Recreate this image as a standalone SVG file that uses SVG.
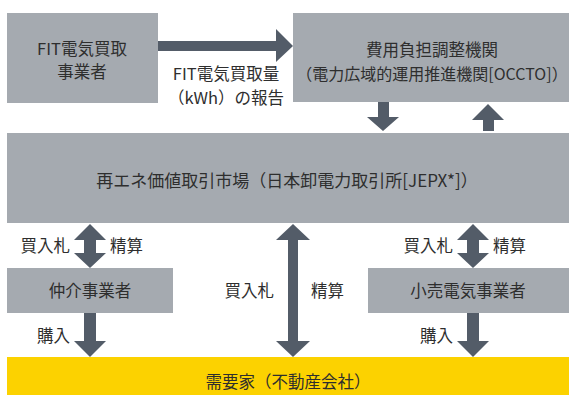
<svg xmlns="http://www.w3.org/2000/svg" width="575" height="396" viewBox="0 0 575 396">
<style>
.box{fill:#a5aab0}
.yel{fill:#fcd200}
.arr{fill:#535c68}
text{font-family:"Noto Sans CJK JP","Noto Sans",sans-serif;font-size:16.5px;fill:#2e2e2e;dominant-baseline:central}
.c{text-anchor:middle}
.e{text-anchor:end}
.w{font-size:17px}
.s{font-size:16px}
</style>
<rect width="575" height="396" fill="#fff"/>
<g id="fit">
<rect class="box" x="7" y="13" width="151" height="90"/>
<text class="c" x="82" y="48">FIT電気買取</text>
<text class="c" x="82" y="71">事業者</text>
</g>
<g id="occto">
<rect class="box" x="293" y="13" width="276" height="89"/>
<text class="c" x="432" y="49">費用負担調整機関</text>
<text class="c s" x="432" y="73">（電力広域的運用推進機関[OCCTO]）</text>
</g>
<g id="jepx">
<rect class="box" x="7" y="133" width="562" height="90"/>
<text class="c w" x="287" y="179">再エネ価値取引市場（日本卸電力取引所[JEPX*]）</text>
</g>
<g id="broker">
<rect class="box" x="7" y="268" width="166" height="45"/>
<text class="c" x="90" y="290">仲介事業者</text>
</g>
<g id="retail">
<rect class="box" x="368" y="268" width="201" height="45"/>
<text class="c" x="468" y="290">小売電気事業者</text>
</g>
<g id="customer">
<rect class="yel" x="7" y="357" width="562" height="38"/>
<text class="c" x="288" y="381">需要家（不動産会社）</text>
</g>
<g id="connectors">
<polygon class="arr" points="158,41 276,41 276,29 293,46 276,62 276,51 158,51"/>
<polygon class="arr" points="378,102 389,102 389,117 399,117 383,131 367,117 378,117"/>
<polygon class="arr" points="483,131 494,131 494,120 504,120 488,104 472,120 483,120"/>
<polygon class="arr" points="90,224 106,240 96,240 96,253 106,253 90,268 74,253 84,253 84,240 74,240"/>
<polygon class="arr" points="473,224 489,240 479,240 479,253 489,253 473,268 457,253 467,253 467,240 457,240"/>
<polygon class="arr" points="293,224 310,240 298,240 298,341 310,341 293,357 276,341 288,341 288,240 276,240"/>
<polygon class="arr" points="84,313 96,313 96,341 106,341 90,357 74,341 84,341"/>
<polygon class="arr" points="467,313 479,313 479,341 489,341 473,357 457,341 467,341"/>
</g>
<g id="labels">
<text class="c" x="226" y="73">FIT電気買取量</text>
<text class="c" x="226" y="97">（kWh）の報告</text>
<text class="e" x="70" y="245">買入札</text>
<text x="110" y="245">精算</text>
<text class="e" x="453" y="245">買入札</text>
<text x="493" y="245">精算</text>
<text class="e" x="274" y="290">買入札</text>
<text x="311" y="290">精算</text>
<text class="e" x="70" y="335">購入</text>
<text class="e" x="453" y="335">購入</text>
</g>
</svg>
